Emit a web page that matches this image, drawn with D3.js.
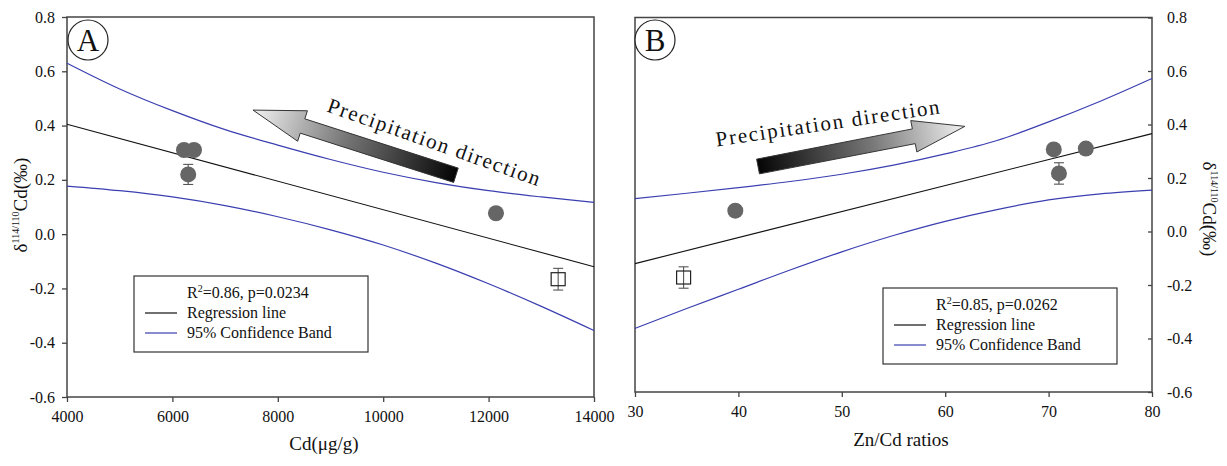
<!DOCTYPE html>
<html>
<head>
<meta charset="utf-8">
<script src="https://cdn.jsdelivr.net/npm/d3@7"></script>
<style>
  body { margin: 0; background: #fff; }
  text { font-family: "Liberation Serif", "Times New Roman", serif; fill: #111; }
</style>
</head>
<body>
<div id="chart"></div>
<script>
// ---- data ----
// panel A : d114/110Cd vs Cd (ug/g)
const aCircleX = [6220, 6410, 6300, 12140];
const aCircleY = [0.31, 0.31, 0.22, 0.077];
const aCircleErr = [0, 0, 0.037, 0];
const aSquareX = [13320];
const aSquareY = [-0.166];
const aSquareErr = [0.04];
const aFitX = [4000, 14000];
const aFitY = [0.405, -0.12];
const aBandX = [4000, 5000, 6000, 7000, 8000, 9000, 10000, 11000, 12000, 13000, 14000];
const aUpper = [0.63, 0.535, 0.455, 0.385, 0.328, 0.275, 0.228, 0.19, 0.16, 0.137, 0.117];
const aLower = [0.177, 0.16, 0.137, 0.105, 0.064, 0.016, -0.04, -0.107, -0.183, -0.266, -0.355];
const aXTicks = [4000, 6000, 8000, 10000, 12000, 14000];

// panel B : d114/110Cd vs Zn/Cd ratios
const bCircleX = [70.5, 73.6, 71.0, 39.7];
const bCircleY = [0.307, 0.31, 0.217, 0.078];
const bCircleErr = [0, 0, 0.04, 0];
const bSquareX = [34.7];
const bSquareY = [-0.172];
const bSquareErr = [0.04];
const bFitX = [30, 80];
const bFitY = [-0.12, 0.366];
const bBandX = [30, 35, 40, 45, 50, 55, 60, 65, 70, 75, 80];
const bUpper = [0.123, 0.143, 0.164, 0.187, 0.214, 0.248, 0.29, 0.34, 0.41, 0.487, 0.572];
const bLower = [-0.362, -0.288, -0.216, -0.144, -0.076, -0.015, 0.038, 0.082, 0.118, 0.141, 0.155];
const bXTicks = [30, 40, 50, 60, 70, 80];

const yTicks = [-0.6, -0.4, -0.2, 0.0, 0.2, 0.4, 0.6, 0.8];

const svg = d3.select('#chart').append('svg')
  .attr('width', 1227)
  .attr('height', 466);

const defs = svg.append('defs');
const grad = defs.append('linearGradient').attr('id', 'arrowGrad')
  .attr('x1', 0).attr('y1', 0).attr('x2', 1).attr('y2', 0);
grad.append('stop').attr('offset', 0).attr('stop-color', '#050505');
grad.append('stop').attr('offset', 0.55).attr('stop-color', '#777');
grad.append('stop').attr('offset', 1).attr('stop-color', '#f2f2f2');

const frameColor = '#444';
const bandColor = '#3b3fb0';

function drawArrow(g, tail, tip) {
  // arrow drawn from tail (dark) to tip (light)
  const dx = tip[0] - tail[0], dy = tip[1] - tail[1];
  const L = Math.hypot(dx, dy);
  const ang = Math.atan2(dy, dx) * 180 / Math.PI;
  const hl = 52, hw = 16, sw = 7.5;
  const pts = [[0, -sw], [L - hl, -sw], [L - hl, -hw], [L, 0], [L - hl, hw], [L - hl, sw], [0, sw]];
  g.append('polygon')
    .attr('points', pts.map(p => p.join(',')).join(' '))
    .attr('transform', `translate(${tail[0]},${tail[1]}) rotate(${ang})`)
    .attr('fill', 'url(#arrowGrad)')
    .attr('stroke', '#333')
    .attr('stroke-width', 0.9);
}

function drawPanel(cfg) {
  const x = d3.scaleLinear().domain(cfg.xDomain).range(cfg.xRange);
  const y = d3.scaleLinear().domain([-0.6, 0.8]).range(cfg.yRange);
  const g = svg.append('g');
  const fmt = d => d.toFixed(1);

  // axes
  const xAxis = g.append('g')
    .attr('transform', `translate(0,${cfg.yRange[0]})`)
    .call(d3.axisBottom(x).tickValues(cfg.xTicks).tickSize(5).tickPadding(9).tickFormat(d3.format('d')));
  let yAxis;
  if (cfg.side === 'left') {
    yAxis = g.append('g')
      .attr('transform', `translate(${cfg.xRange[0]},0)`)
      .call(d3.axisLeft(y).tickValues(yTicks).tickSize(5).tickPadding(7).tickFormat(fmt));
  } else {
    yAxis = g.append('g')
      .attr('transform', `translate(${cfg.xRange[1]},0)`)
      .call(d3.axisRight(y).tickValues(yTicks).tickSize(-4).tickPadding(15).tickFormat(fmt));
  }
  [xAxis, yAxis].forEach(a => {
    a.select('.domain').remove();
    a.selectAll('line').attr('stroke', frameColor).attr('stroke-width', 1.3);
    a.selectAll('text').style('font-size', '16px').style('font-family', '"Liberation Serif", serif').attr('fill', '#111');
  });

  // frame
  g.append('rect')
    .attr('x', cfg.xRange[0]).attr('y', cfg.yRange[1])
    .attr('width', cfg.xRange[1] - cfg.xRange[0])
    .attr('height', cfg.yRange[0] - cfg.yRange[1])
    .attr('fill', 'none').attr('stroke', frameColor).attr('stroke-width', 1.5);

  // confidence band and regression line
  const band = d3.line().x(d => x(d[0])).y(d => y(d[1])).curve(d3.curveMonotoneX);
  [cfg.upper, cfg.lower].forEach(vals => {
    g.append('path')
      .datum(cfg.bandX.map((v, i) => [v, vals[i]]))
      .attr('fill', 'none').attr('stroke', bandColor).attr('stroke-width', 1.2)
      .attr('d', band);
  });
  g.append('path')
    .datum(cfg.fitX.map((v, i) => [v, cfg.fitY[i]]))
    .attr('fill', 'none').attr('stroke', '#111').attr('stroke-width', 1.1)
    .attr('d', d3.line().x(d => x(d[0])).y(d => y(d[1])));

  // arrow + annotation
  drawArrow(g, [x(cfg.arrowTail[0]), y(cfg.arrowTail[1])], [x(cfg.arrowTip[0]), y(cfg.arrowTip[1])]);
  g.append('text')
    .attr('transform', `translate(${x(cfg.noteAt[0])},${y(cfg.noteAt[1])}) rotate(${cfg.noteAngle})`)
    .attr('textLength', cfg.noteLen)
    .attr('lengthAdjust', 'spacing')
    .style('font-size', '21px')
    .text('Precipitation direction');

  // error bars
  const errCol = '#555';
  const errData = cfg.circleX.map((v, i) => ({ x: v, y: cfg.circleY[i], e: cfg.circleErr[i] }))
    .concat(cfg.squareX.map((v, i) => ({ x: v, y: cfg.squareY[i], e: cfg.squareErr[i] })))
    .filter(d => d.e > 0);
  const eb = g.selectAll('.eb').data(errData).join('g');
  eb.append('line')
    .attr('x1', d => x(d.x)).attr('x2', d => x(d.x))
    .attr('y1', d => y(d.y + d.e)).attr('y2', d => y(d.y - d.e))
    .attr('stroke', errCol).attr('stroke-width', 1.1);
  [1, -1].forEach(s => {
    eb.append('line')
      .attr('x1', d => x(d.x) - 5).attr('x2', d => x(d.x) + 5)
      .attr('y1', d => y(d.y + s * d.e)).attr('y2', d => y(d.y + s * d.e))
      .attr('stroke', errCol).attr('stroke-width', 1.1);
  });

  // points
  g.selectAll('.pt').data(cfg.circleX.map((v, i) => [v, cfg.circleY[i]])).join('circle')
    .attr('cx', d => x(d[0])).attr('cy', d => y(d[1])).attr('r', 8)
    .attr('fill', '#666');
  g.selectAll('.sq').data(cfg.squareX.map((v, i) => [v, cfg.squareY[i]])).join('rect')
    .attr('x', d => x(d[0]) - 7).attr('y', d => y(d[1]) - 6.5)
    .attr('width', 14).attr('height', 13)
    .attr('fill', 'none').attr('stroke', '#222').attr('stroke-width', 1.2);

  // panel label
  g.append('circle').attr('cx', cfg.tag[0]).attr('cy', cfg.tag[1]).attr('r', 20)
    .attr('fill', '#fff').attr('stroke', '#222').attr('stroke-width', 1.2);
  g.append('text').attr('x', cfg.tag[0]).attr('y', cfg.tag[1] + 11)
    .attr('text-anchor', 'middle').style('font-size', '31px').text(cfg.tagText);

  // legend
  const lg = g.append('g');
  lg.append('rect')
    .attr('x', cfg.legend.x).attr('y', cfg.legend.y)
    .attr('width', cfg.legend.w).attr('height', cfg.legend.h)
    .attr('fill', '#fff').attr('stroke', '#333').attr('stroke-width', 1.2);
  const lx = cfg.legend.x, ly = cfg.legend.y;
  const r2 = lg.append('text').attr('x', lx + cfg.legend.tx).attr('y', ly + 22).style('font-size', '16px');
  r2.append('tspan').text('R');
  r2.append('tspan').attr('dy', -6).style('font-size', '10px').text('2');
  r2.append('tspan').attr('dy', 6).text(cfg.stats);
  [['Regression line', '#111'], ['95% Confidence Band', bandColor]].forEach((d, i) => {
    const yy = ly + 42 + i * 20;
    lg.append('line')
      .attr('x1', lx + 11).attr('x2', lx + cfg.legend.tx - 10)
      .attr('y1', yy - 5).attr('y2', yy - 5)
      .attr('stroke', d[1]).attr('stroke-width', 1.2);
    lg.append('text').attr('x', lx + cfg.legend.tx).attr('y', yy).style('font-size', '16px').text(d[0]);
  });

  // axis titles
  g.append('text')
    .attr('x', cfg.xTitlePos[0]).attr('y', cfg.xTitlePos[1])
    .attr('text-anchor', 'middle').style('font-size', '19px').text(cfg.xTitle);
  const yt = g.append('text')
    .attr('transform', `translate(${cfg.yTitlePos[0]},${cfg.yTitlePos[1]}) rotate(${cfg.side === 'left' ? -90 : 90})`)
    .attr('text-anchor', 'middle').style('font-size', '19px');
  yt.append('tspan').text('δ');
  yt.append('tspan').attr('dy', -8).style('font-size', '10px').text('114/110');
  yt.append('tspan').attr('dy', 8).text('Cd(‰)');
}

drawPanel({
  side: 'left',
  xDomain: [4000, 14000], xRange: [67, 594], yRange: [397, 17],
  xTicks: aXTicks,
  circleX: aCircleX, circleY: aCircleY, circleErr: aCircleErr,
  squareX: aSquareX, squareY: aSquareY, squareErr: aSquareErr,
  fitX: aFitX, fitY: aFitY, bandX: aBandX, upper: aUpper, lower: aLower,
  arrowTail: [11380, 0.217], arrowTip: [7530, 0.457],
  noteAt: [8915, 0.453], noteAngle: 19.5, noteLen: 224,
  tag: [88, 40], tagText: 'A',
  legend: { x: 134, y: 276, w: 234, h: 76, tx: 53 },
  stats: '=0.86, p=0.0234',
  xTitle: 'Cd(μg/g)', xTitlePos: [324, 450],
  yTitlePos: [27, 205]
});

drawPanel({
  side: 'right',
  xDomain: [30, 80], xRange: [635, 1152], yRange: [392, 17.5],
  xTicks: bXTicks,
  circleX: bCircleX, circleY: bCircleY, circleErr: bCircleErr,
  squareX: bSquareX, squareY: bSquareY, squareErr: bSquareErr,
  fitX: bFitX, fitY: bFitY, bandX: bBandX, upper: bUpper, lower: bLower,
  arrowTail: [41.9, 0.243], arrowTip: [61.9, 0.393],
  noteAt: [37.9, 0.318], noteAngle: -8.4, noteLen: 226,
  tag: [655, 40], tagText: 'B',
  legend: { x: 883, y: 288, w: 234, h: 76, tx: 53 },
  stats: '=0.85, p=0.0262',
  xTitle: 'Zn/Cd ratios', xTitlePos: [901, 446],
  yTitlePos: [1203, 209]
});
</script>
</body>
</html>
